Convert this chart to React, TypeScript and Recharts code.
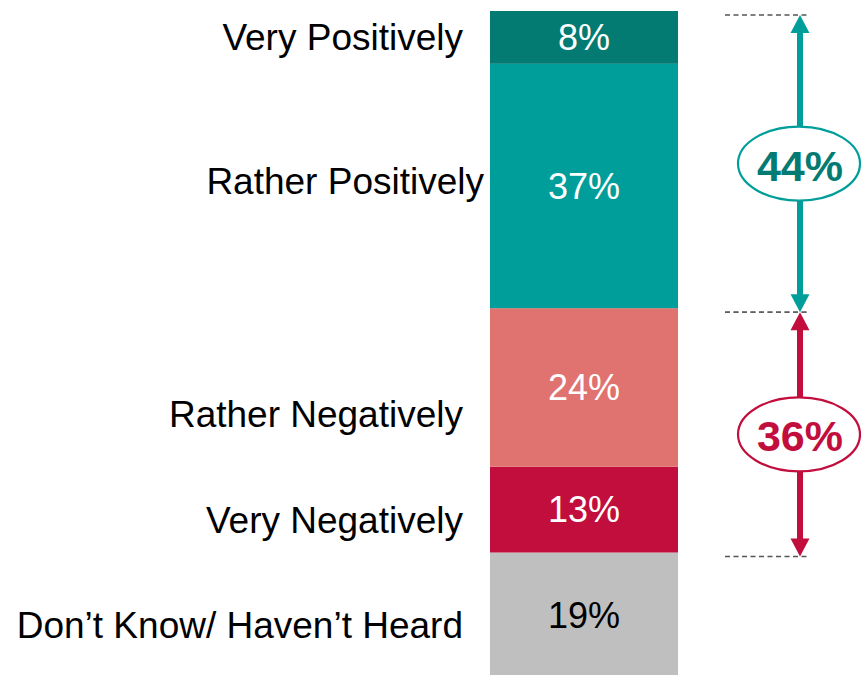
import React from 'react';
import { BarChart, Bar, XAxis, YAxis, LabelList, ReferenceArea } from 'recharts';

// answers, top of the bar to bottom
const categories = [
  'Very Positively',
  'Rather Positively',
  'Rather Negatively',
  'Very Negatively',
  'Don’t Know/ Haven’t Heard',
];
const shares = [8, 37, 24, 13, 19];
const seriesKeys = ['vp', 'rp', 'rn', 'vn', 'dk'];

// net brackets on the right: which answers they cover and what they say
const netGroups = [
  { label: '44%', from: 0, to: 1 },
  { label: '36%', from: 2, to: 3 },
];

const segmentColors = ['#037B73', '#009E9B', '#E07270', '#C20E3D', '#BFBFBF'];
const valueColors = ['#FFFFFF', '#FFFFFF', '#FFFFFF', '#FFFFFF', '#000000'];
const netStroke = ['#009E9B', '#C20E3D'];
const netText = ['#037B73', '#C20E3D'];
// the answer labels sit a bit off the segment centres in the original
const labelNudge = [
  { dx: 0, dy: 0 },
  { dx: 21, dy: -5 },
  { dx: 0, dy: 27 },
  { dx: 0, dy: 10 },
  { dx: 0, dy: 10 },
];

const row: Record<string, string | number> = { name: 'all' };
seriesKeys.forEach((k, i) => {
  row[k] = shares[i];
});
const chartData = [row];
const total = shares.reduce((a, b) => a + b, 0);

// stacked value at the bottom edge of answer i (stack grows from the last answer up)
const stackBottom = (i: number) => shares.slice(i + 1).reduce((a, b) => a + b, 0);
const stackTop = (i: number) => stackBottom(i) + shares[i];

const segmentShape = (i: number) => (props: any) => {
  const { x, y, width, height, fill } = props;
  const n = labelNudge[i];
  return (
    <g>
      <rect x={x} y={y} width={width} height={height} fill={fill} />
      <text
        x={x - 27 + n.dx}
        y={y + height / 2 + n.dy + 13}
        textAnchor="end"
        fontSize={37}
        fill="#000"
      >
        {categories[i]}
      </text>
    </g>
  );
};

const bracketShape = (g: number) => (props: any) => {
  const { x, y, width, height } = props;
  const ax = x + width + 122;
  const top = y + 4;
  const bottom = y + height + 4;
  const mid = (top + bottom) / 2;
  const c = netStroke[g];
  const head = 18;
  const half = 9.5;
  return (
    <g>
      <line x1={ax - 75} x2={ax + 10} y1={top} y2={top} stroke="#555" strokeWidth={1.3} strokeDasharray="5 3.5" />
      <line x1={ax - 75} x2={ax + 10} y1={bottom} y2={bottom} stroke="#555" strokeWidth={1.3} strokeDasharray="5 3.5" />
      <line x1={ax} x2={ax} y1={top + head - 2} y2={bottom - head + 2} stroke={c} strokeWidth={6} />
      <polygon points={`${ax},${top} ${ax - half},${top + head} ${ax + half},${top + head}`} fill={c} />
      <polygon points={`${ax},${bottom} ${ax - half},${bottom - head} ${ax + half},${bottom - head}`} fill={c} />
      <ellipse cx={ax - 1} cy={mid} rx={61} ry={37} fill="#FFFFFF" stroke={c} strokeWidth={2.2} />
      <text x={ax} y={mid + 17} textAnchor="middle" fontSize={43} fontWeight="bold" fill={netText[g]}>
        {netGroups[g].label}
      </text>
    </g>
  );
};

export default function App() {
  const order = [4, 3, 2, 1, 0]; // bottom of the stack first
  return (
    <div
      style={{
        position: 'absolute',
        left: 0,
        top: 0,
        width: 861,
        height: 675,
        overflow: 'hidden',
        background: '#fff',
        fontFamily: '"Liberation Sans", Arial, sans-serif',
      }}
    >
      <BarChart
        width={861}
        height={678}
        data={chartData}
        margin={{ top: 11, right: 183, bottom: 0, left: 490 }}
        barCategoryGap={0}
      >
        <XAxis dataKey="name" type="category" hide />
        <YAxis type="number" domain={[0, total]} hide />
        {order.map((i) => (
          <Bar
            key={seriesKeys[i]}
            dataKey={seriesKeys[i]}
            stackId="a"
            fill={segmentColors[i]}
            shape={segmentShape(i)}
            isAnimationActive={false}
          >
            <LabelList
              dataKey={seriesKeys[i]}
              position="center"
              formatter={(v: any) => `${v}%`}
              fill={valueColors[i]}
              fontSize={36}
            />
          </Bar>
        ))}
        {netGroups.map((g, gi) => (
          <ReferenceArea
            key={g.label}
            y1={stackBottom(g.to)}
            y2={stackTop(g.from)}
            ifOverflow="visible"
            shape={bracketShape(gi)}
          />
        ))}
      </BarChart>
    </div>
  );
}
